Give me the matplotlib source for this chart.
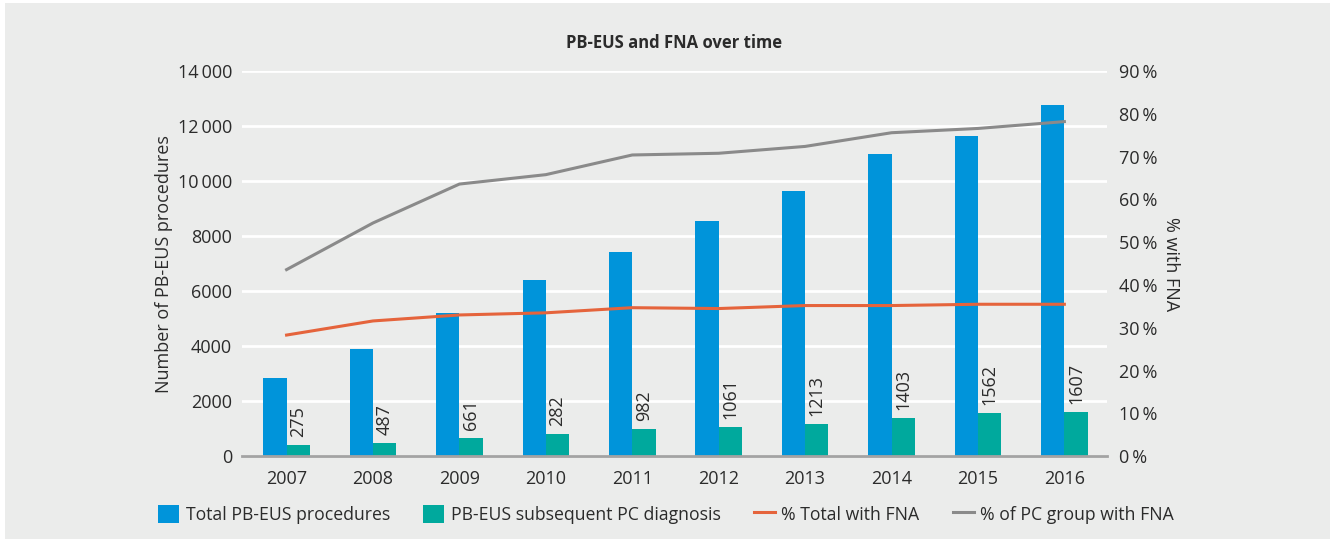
import matplotlib.pyplot as plt
from matplotlib.patches import Rectangle
import numpy as np

plt.rcParams['font.family'] = ['Open Sans', 'DejaVu Sans']

years = ["2007", "2008", "2009", "2010", "2011", "2012", "2013", "2014", "2015", "2016"]
total_procs = [2850, 3900, 5200, 6420, 7420, 8540, 9630, 11000, 11650, 12780]
pc_diag = [400, 487, 661, 810, 982, 1061, 1180, 1390, 1570, 1600]
pc_labels = ["275", "487", "661", "282", "982", "1061", "1213", "1403", "1562", "1607"]
pct_total_fna = [28.3, 31.6, 33.0, 33.5, 34.7, 34.5, 35.2, 35.2, 35.5, 35.5]
pct_pc_fna = [43.6, 54.5, 63.6, 65.8, 70.4, 70.8, 72.4, 75.6, 76.6, 78.2]

blue = "#0094da"
teal = "#00a99d"
orange = "#e5643c"
grey = "#8a8a8a"
bg = "#ebeceb"
txt = "#2b2b2b"

fig = plt.figure(figsize=(13.35, 5.43), dpi=100)
fig.patch.set_facecolor("white")
fig.patches.append(Rectangle((5 / 1335, 4 / 543), 1325 / 1335, 536 / 543,
                             transform=fig.transFigure, facecolor=bg,
                             edgecolor="none", zorder=-10))

ax = fig.add_axes([0.181, 0.160, 0.648, 0.709])
ax.patch.set_alpha(0)

x = np.arange(len(years))
w = 0.27
ax.bar(x - w / 2, total_procs, w, color=blue, label="Total PB-EUS procedures", zorder=3)
ax.bar(x + w / 2, pc_diag, w, color=teal, label="PB-EUS subsequent PC diagnosis", zorder=3)

for xi, h, lab in zip(x, pc_diag, pc_labels):
    ax.text(xi + w / 2, h + 280, lab, rotation=90, ha="center", va="bottom",
            fontsize=13, color=txt, zorder=4)

ax.set_ylim(0, 14000)
ax.set_yticks(range(0, 14001, 2000))
ax.set_yticklabels([f"{v // 1000}\u2009{v % 1000:03d}" if v >= 10000 else str(v)
                    for v in range(0, 14001, 2000)])
ax.set_xlim(-0.52, 9.49)
ax.set_xticks(x)
ax.set_xticklabels(years)
ax.grid(axis="y", color="white", linewidth=2, zorder=0)
ax.set_axisbelow(True)
for s in ["top", "right", "left"]:
    ax.spines[s].set_visible(False)
ax.spines["bottom"].set_color("#a3a3a3")
ax.spines["bottom"].set_linewidth(2)
ax.spines["bottom"].set_zorder(5)
ax.tick_params(axis="y", length=0, labelsize=13, colors=txt, pad=7)
ax.tick_params(axis="x", length=0, labelsize=13, colors=txt, pad=10)
ax.set_ylabel("Number of PB-EUS procedures", fontsize=13, color=txt, labelpad=3)

ax2 = ax.twinx()
l1, = ax2.plot(x, pct_total_fna, color=orange, linewidth=2.2, label="% Total with FNA", zorder=4)
l2, = ax2.plot(x, pct_pc_fna, color=grey, linewidth=2.2, label="% of PC group with FNA", zorder=4)
ax2.set_ylim(0, 90)
ax2.set_yticks(range(0, 91, 10))
ax2.set_yticklabels([f"{v}\u2009%" for v in range(0, 91, 10)])
for s in ax2.spines.values():
    s.set_visible(False)
ax2.tick_params(length=0, labelsize=13, colors=txt, pad=9)
ax2.set_ylabel("% with FNA", rotation=270, fontsize=13, color=txt, labelpad=16)

ax.set_title("PB-EUS and FNA over time", fontsize=12, fontweight="bold", color=txt, pad=17)

h1, lb1 = ax.get_legend_handles_labels()
fig.legend(h1 + [l1, l2], lb1 + [l1.get_label(), l2.get_label()],
           loc="center", bbox_to_anchor=(0.499, 0.053), ncol=4, frameon=False,
           fontsize=12.7, handlelength=1.2, handleheight=1.2, columnspacing=1.9,
           handletextpad=0.35, labelcolor=txt)

fig.savefig("out.png", dpi=100, facecolor=fig.get_facecolor())
